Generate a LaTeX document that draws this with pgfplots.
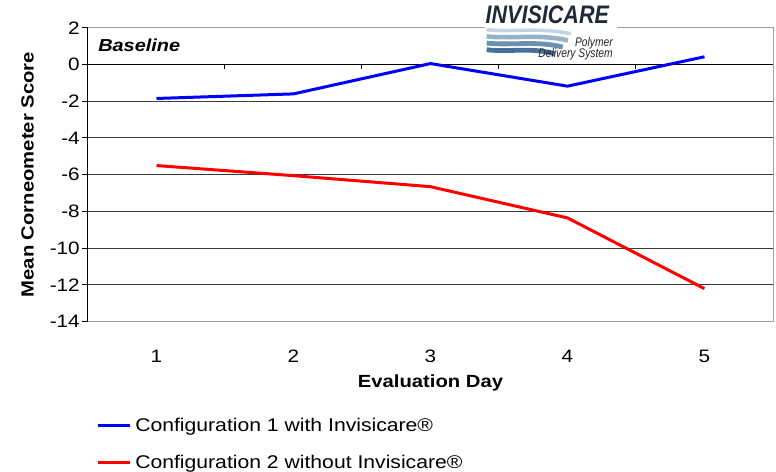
\documentclass[border=0pt]{standalone}
\usepackage{pgfplots}
\pgfplotsset{compat=1.18}
\usepackage{fontspec}
\setmainfont{Liberation Sans}[FakeStretch=1.15]
\newfontfamily\logofont{Liberation Sans}[FakeStretch=0.85]
\newfontfamily\logosmall{Liberation Sans}[FakeStretch=0.82]
\definecolor{gridc}{HTML}{3A3A3A}
\definecolor{borderc}{HTML}{A0A0A0}
\definecolor{waveA}{HTML}{C2D3E1}
\definecolor{waveB}{HTML}{96B2C9}
\definecolor{waveC}{HTML}{6B90B0}
\definecolor{waveD}{HTML}{46709A}
\definecolor{logotext}{HTML}{1E2A36}
\begin{document}
\begin{tikzpicture}
\useasboundingbox (-66pt,-112.7pt) rectangle (516pt,241.3pt);
\begin{axis}[
  at={(0,0)}, anchor=south west,
  scale only axis,
  width=513.75pt, height=220.5pt,
  xmin=0.5, xmax=5.5,
  ymin=-14, ymax=2,
  xtick={1,2,3,4,5},
  xticklabels={1,2,3,4,5},
  ytick={-14,-12,-10,-8,-6,-4,-2,0,2},
  ymajorgrids,
  grid style={gridc, line width=0.75pt},
  axis lines*=left,
  x axis line style={borderc, line width=0.75pt},
  y axis line style={black, line width=0.75pt},
  xtick style={draw=none},
  ytick style={black, line width=0.75pt},
  tick align=outside,
  major tick length=4.5pt,
  /pgf/number format/assume math mode=true,
  tick label style={font=\fontsize{13.5}{16}\selectfont},
  xticklabel style={anchor=center, yshift=-21.2pt},
  yticklabel style={inner sep=1.5pt},
  xlabel={Evaluation Day},
  ylabel={Mean Corneometer Score},
  label style={font=\fontsize{13.2}{15}\selectfont\bfseries},
  xlabel style={at={(axis description cs:0.5,-0.2086)}, anchor=center},
  ylabel style={at={(axis description cs:-0.0883,0.5)}, anchor=center},
  legend style={
    at={(axis description cs:0.0117,-0.4165)}, anchor=west,
    draw=none, fill=none, inner sep=0pt,
    row sep=16pt, column sep=3pt,
    nodes={inner sep=0pt},
    font=\fontsize{13.8}{16}\selectfont,
  },
  legend cell align=left,
  legend image code/.code={\draw[#1] (0pt,0pt) -- (24pt,0pt);},
  clip=false,
]
\draw[black, line width=0.75pt] (axis cs:0.5,0) -- (axis cs:5.5,0);
\pgfplotsinvokeforeach{0.5,1.5,2.5,3.5,4.5,5.5}{
  \draw[black, line width=0.75pt] (axis cs:#1,0) -- ++(0pt,-3.75pt);
}
\draw[borderc, line width=0.75pt] (axis cs:0.5,2) -- (axis cs:5.5,2) -- (axis cs:5.5,-14) -- (axis cs:0.5,-14);
\addplot[blue, line width=2.25pt] coordinates {(1,-1.85) (2,-1.6) (3,0.05) (4,-1.18) (5,0.42)};
\addlegendentry{Configuration 1 with Invisicare®}
\addplot[red, line width=2.25pt] coordinates {(1,-5.5) (2,-6.05) (3,-6.65) (4,-8.35) (5,-12.2)};
\addlegendentry{Configuration 2 without Invisicare®}
\end{axis}
% Baseline label
\node[anchor=west, inner sep=0pt, font=\fontsize{13}{15}\selectfont\bfseries\itshape] at (7.5pt,207.5pt) {Baseline};
% Logo
\fill[white] (297.75pt,194.8pt) rectangle (396.75pt,239.8pt);
\draw[waveA, line width=2.6pt] (299pt,219pt) .. controls (318pt,217pt) and (338pt,221pt) .. (362pt,216pt);
\draw[waveB, line width=3.4pt] (299pt,214pt) .. controls (318pt,212pt) and (338pt,216pt) .. (360pt,211pt);
\draw[waveC, line width=3.6pt] (299pt,209pt) .. controls (318pt,207pt) and (336pt,211pt) .. (356pt,206pt);
\draw[waveD, line width=3.6pt] (299pt,204pt) .. controls (316pt,202pt) and (332pt,206pt) .. (350pt,201pt);
\node[anchor=center, inner sep=0pt, text=logotext, font=\logofont\fontsize{19}{21}\selectfont\bfseries\itshape] at (344.5pt,230pt) {INVISICARE};
\node[anchor=east, inner sep=0pt, text=black!85, font=\logosmall\fontsize{9.4}{10}\selectfont\itshape] at (393.75pt,208.5pt) {Polymer};
\node[anchor=east, inner sep=0pt, text=black!85, font=\logosmall\fontsize{9.4}{10}\selectfont\itshape] at (393.75pt,200.5pt) {Delivery System};
\end{tikzpicture}
\end{document}
